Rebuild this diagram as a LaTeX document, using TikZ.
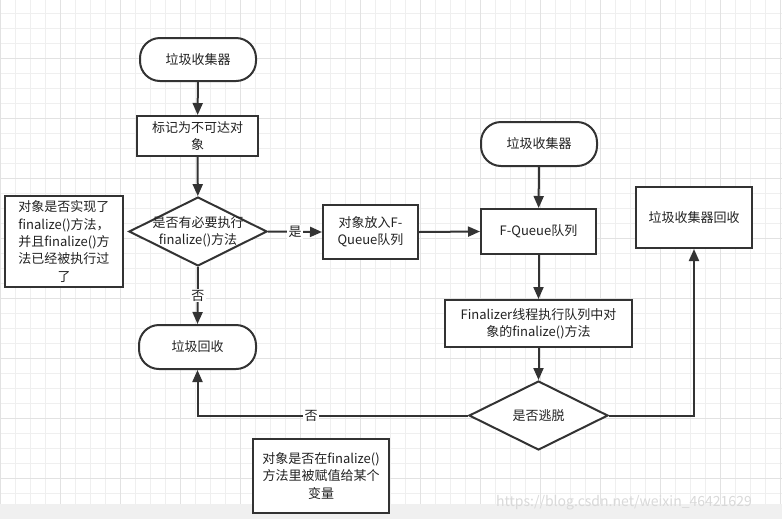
\documentclass[tikz,border=0pt]{standalone}
\usepackage{fontspec}
\setmainfont{Noto Sans CJK SC}
\usetikzlibrary{arrows.meta,shapes.geometric}
\definecolor{ln}{HTML}{333333}
\definecolor{tx}{HTML}{222222}
\definecolor{gminor}{HTML}{EFEFEF}
\definecolor{gmajor}{HTML}{E2E2E2}
\definecolor{strip}{HTML}{F0F0F0}
\begin{document}
\begin{tikzpicture}[x=0.75pt,y=-0.75pt,
  font=\fontsize{9.75pt}{13pt}\selectfont,
  box/.style={draw=ln, line width=1.5pt, fill=white, text=tx, align=center, inner sep=0pt},
  term/.style={box, rounded corners=15pt},
  dia/.style={draw=ln, line width=1.5pt, fill=white, diamond, inner sep=0pt},
  arr/.style={draw=ln, line width=1.5pt, -{Triangle[length=9pt,width=7.5pt]}},
  lbl/.style={fill=white, text=tx, inner sep=1pt}]
\useasboundingbox (0,0) rectangle (782,519);
\fill[white] (0,0) rectangle (782,519);
% grid
\foreach \x in {0,15,...,780} \draw[gminor, line width=0.75pt] (\x,0) -- (\x,504);
\foreach \y in {13.3,28.3,...,503} \draw[gminor, line width=0.75pt] (0,\y) -- (782,\y);
\foreach \x in {0,60,...,780} \draw[gmajor, line width=0.75pt] (\x,0) -- (\x,504);
\foreach \y in {58.3,118.3,...,503} \draw[gmajor, line width=0.75pt] (0,\y) -- (782,\y);
\fill[strip] (0,504) rectangle (782,519);
\node[text=gray!30, font=\fontsize{10.5pt}{12pt}\selectfont] (wm) at (624,503) {https://blog.csdn.net/weixin\_46421629};

% nodes
\node[term, minimum width=87pt, minimum height=32.25pt] (t1) at (198,59.5) {垃圾收集器};
\node[box, minimum width=90.75pt, minimum height=30pt] (b1) at (197.5,136) {标记为不可达对\\象};
\node[dia, minimum width=103.5pt, minimum height=51.75pt] (d1) at (198,231.5) {};
\node[text=tx, align=center] (d1t) at (d1) {是否有必要执行\\finalize()方法};
\node[box, minimum width=88.5pt, minimum height=68.25pt] (n1) at (64,241.5) {对象是否实现了\\finalize()方法，\\并且finalize()方\\法已经被执行过\\了};
\node[term, minimum width=87.75pt, minimum height=33pt] (t3) at (197.5,347) {垃圾回收};
\node[box, minimum width=71.25pt, minimum height=40.5pt] (b2) at (370.5,232) {对象放入F-\\Queue队列};
\node[box, minimum width=86.25pt, minimum height=33.75pt] (fq) at (538.5,231.5) {F-Queue队列};
\node[term, minimum width=87pt, minimum height=33pt] (t2) at (539,144) {垃圾收集器};
\node[box, minimum width=140.25pt, minimum height=35.25pt] (b3) at (538.5,323.5) {Finalizer线程执行队列中对\\象的finalize()方法};
\node[dia, minimum width=104.25pt, minimum height=51.75pt] (d2) at (538.5,415.5) {};
\node[text=tx] (d2t) at (d2) {是否逃脱};
\node[box, minimum width=87pt, minimum height=45.75pt] (b4) at (694,217.5) {垃圾收集器回收};
\node[box, minimum width=102pt, minimum height=55.5pt] (n2) at (321,476) {对象是否在finalize()\\方法里被赋值给某个\\变量};

% connectors
\draw[arr] (t1) -- (b1);
\draw[arr] (b1) -- (d1);
\draw[arr] (d1.east) -- (b2.west) node[lbl, pos=0.5] {是};
\draw[arr] (d1.south) -- (t3.north) node[lbl, pos=0.5] {否};
\draw[arr] (b2.east) -- (fq.west);
\draw[arr] (t2) -- (fq);
\draw[arr] (fq) -- (b3);
\draw[arr] (b3) -- (d2);
\draw[arr] (d2.east) -| (b4.south);
\draw[arr] (d2.west) -| (t3.south) node[lbl, pos=0.29] {否};
\end{tikzpicture}
\end{document}
